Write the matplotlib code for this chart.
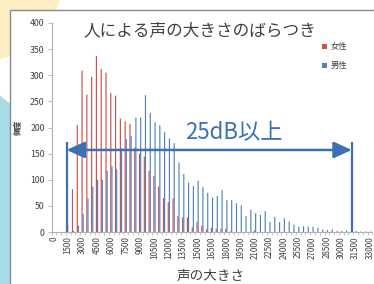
import numpy as np
import matplotlib
matplotlib.use("Agg")
import matplotlib.pyplot as plt
from matplotlib.patches import Circle, Rectangle, FancyArrowPatch, ArrowStyle

plt.rcParams['font.family'] = ['Noto Sans CJK JP', 'DejaVu Sans']

# voice loudness categories, every 500 from 0 to 33000
levels = list(range(0, 33001, 500))
tick_levels = list(range(0, 33001, 1500))

female = [0, 0, 0, 13, 82, 205, 309, 263, 297, 337, 312, 305, 266, 261, 217, 212,
          207, 162, 150, 144, 117, 107, 87, 65, 57, 64, 31, 28, 28, 9, 19, 12,
          5, 8, 6, 6, 6, 1, 0, 0, 0, 0, 3, 0] + [0] * 23
male = [0, 0, 0, 0, 2, 12, 34, 64, 87, 100, 100, 117, 126, 120, 160, 178,
        184, 219, 219, 262, 228, 210, 204, 191, 179, 170, 133, 111, 94, 88, 98, 86,
        75, 66, 69, 80, 61, 61, 55, 51, 31, 43, 36, 33, 40, 19, 29, 19,
        26, 20, 14, 10, 11, 10, 10, 8, 5, 4, 5, 2, 2, 3, 1, 2, 1, 1, 1]

series_names = ['女性', '男性']
title = '人による声の大きさのばらつき'
note = '25dB以上'
# arrow span, in category positions
arrow_from, arrow_to, arrow_y, marker_top = 2.65, 62.2, 157, 172

red = '#c9504d'
blue = '#4f81bd'
arrow_blue = '#3f6fb3'

W, H = 374, 284
fig = plt.figure(figsize=(W / 100, H / 100), dpi=100)

# slide background: decorative circles and the chart frame
bg = fig.add_axes([0, 0, 1, 1], zorder=0)
bg.set_xlim(0, W)
bg.set_ylim(H, 0)
bg.axis('off')
bg.add_patch(Circle((-25, -25), 88, color='#fcefc6', lw=0))
bg.add_patch(Circle((-100, 228), 166, color='#a9dbe7', lw=0))
bg.add_patch(Rectangle((10, 10), 400, 300, facecolor='white', edgecolor='#8a8a8a', lw=1))

x = np.arange(len(levels))
left, right, base, top = 51.5, 372.4, 232, 23
ax = fig.add_axes([left / W, (H - base) / H, (right - left) / W, (base - top) / H], zorder=1)
ax.set_facecolor('none')

ax.bar(x - 0.12, female, width=0.24, color=red, label=series_names[0], snap=False)
ax.bar(x + 0.12, male, width=0.24, color=blue, label=series_names[1], snap=False)

ax.set_xlim(-0.5, len(levels) - 0.5)
ax.set_ylim(0, 400)
ax.set_yticks(range(0, 401, 50))
ax.set_xticks([levels.index(t) for t in tick_levels])
ax.set_xticklabels([str(t) for t in tick_levels], rotation=90, va='top', ha='center')
ax.set_xticks(np.arange(-0.5, len(levels), 1), minor=True)

for s in ['top', 'right']:
    ax.spines[s].set_visible(False)
for s in ['left', 'bottom']:
    ax.spines[s].set_color('#b0b0b0')
    ax.spines[s].set_linewidth(0.8)

ax.tick_params(axis='y', labelsize=6.3, colors='#404040', length=3, width=0.6, pad=2, color='#b0b0b0')
ax.tick_params(axis='x', which='major', labelsize=5.8, colors='#404040', length=0, pad=3)
ax.tick_params(axis='x', which='minor', length=2, width=0.5, color='#b0b0b0')

ax.set_title(title, fontsize=12, color='#404040', x=(200 - left) / (right - left), y=1.0, pad=-9)
ax.set_ylabel('頻度', fontsize=5.5, color='#404040', fontweight='bold', va='center')
ax.yaxis.set_label_coords((17 - left) / (right - left), 0.5)
ax.set_xlabel('声の大きさ', fontsize=9.8, color='#404040', va='center')
ax.xaxis.set_label_coords((211 - left) / (right - left), (base - 276) / (base - top))

ax.legend(loc='upper left', bbox_to_anchor=((318 - left) / (right - left), (base - 38) / (base - top)),
          frameon=False, fontsize=6, handlelength=0.6, handleheight=0.6, handletextpad=0.4,
          labelspacing=1.2, borderpad=0, labelcolor='#404040')

# the "25dB or more" span
ax.plot([arrow_from, arrow_from], [0, marker_top], color=arrow_blue, lw=1.6, solid_capstyle='butt')
ax.plot([arrow_to, arrow_to], [0, marker_top], color=arrow_blue, lw=1.6, solid_capstyle='butt')
ax.add_patch(FancyArrowPatch((arrow_from, arrow_y), (arrow_to, arrow_y),
                             arrowstyle=ArrowStyle('<|-|>', head_length=1.1, head_width=0.5),
                             mutation_scale=10, color=arrow_blue, lw=1.8, shrinkA=0, shrinkB=0))
ax.text(37.6, 191, note, fontsize=16, color=arrow_blue, ha='center', va='center')

fig.savefig('out.png', dpi=100)
